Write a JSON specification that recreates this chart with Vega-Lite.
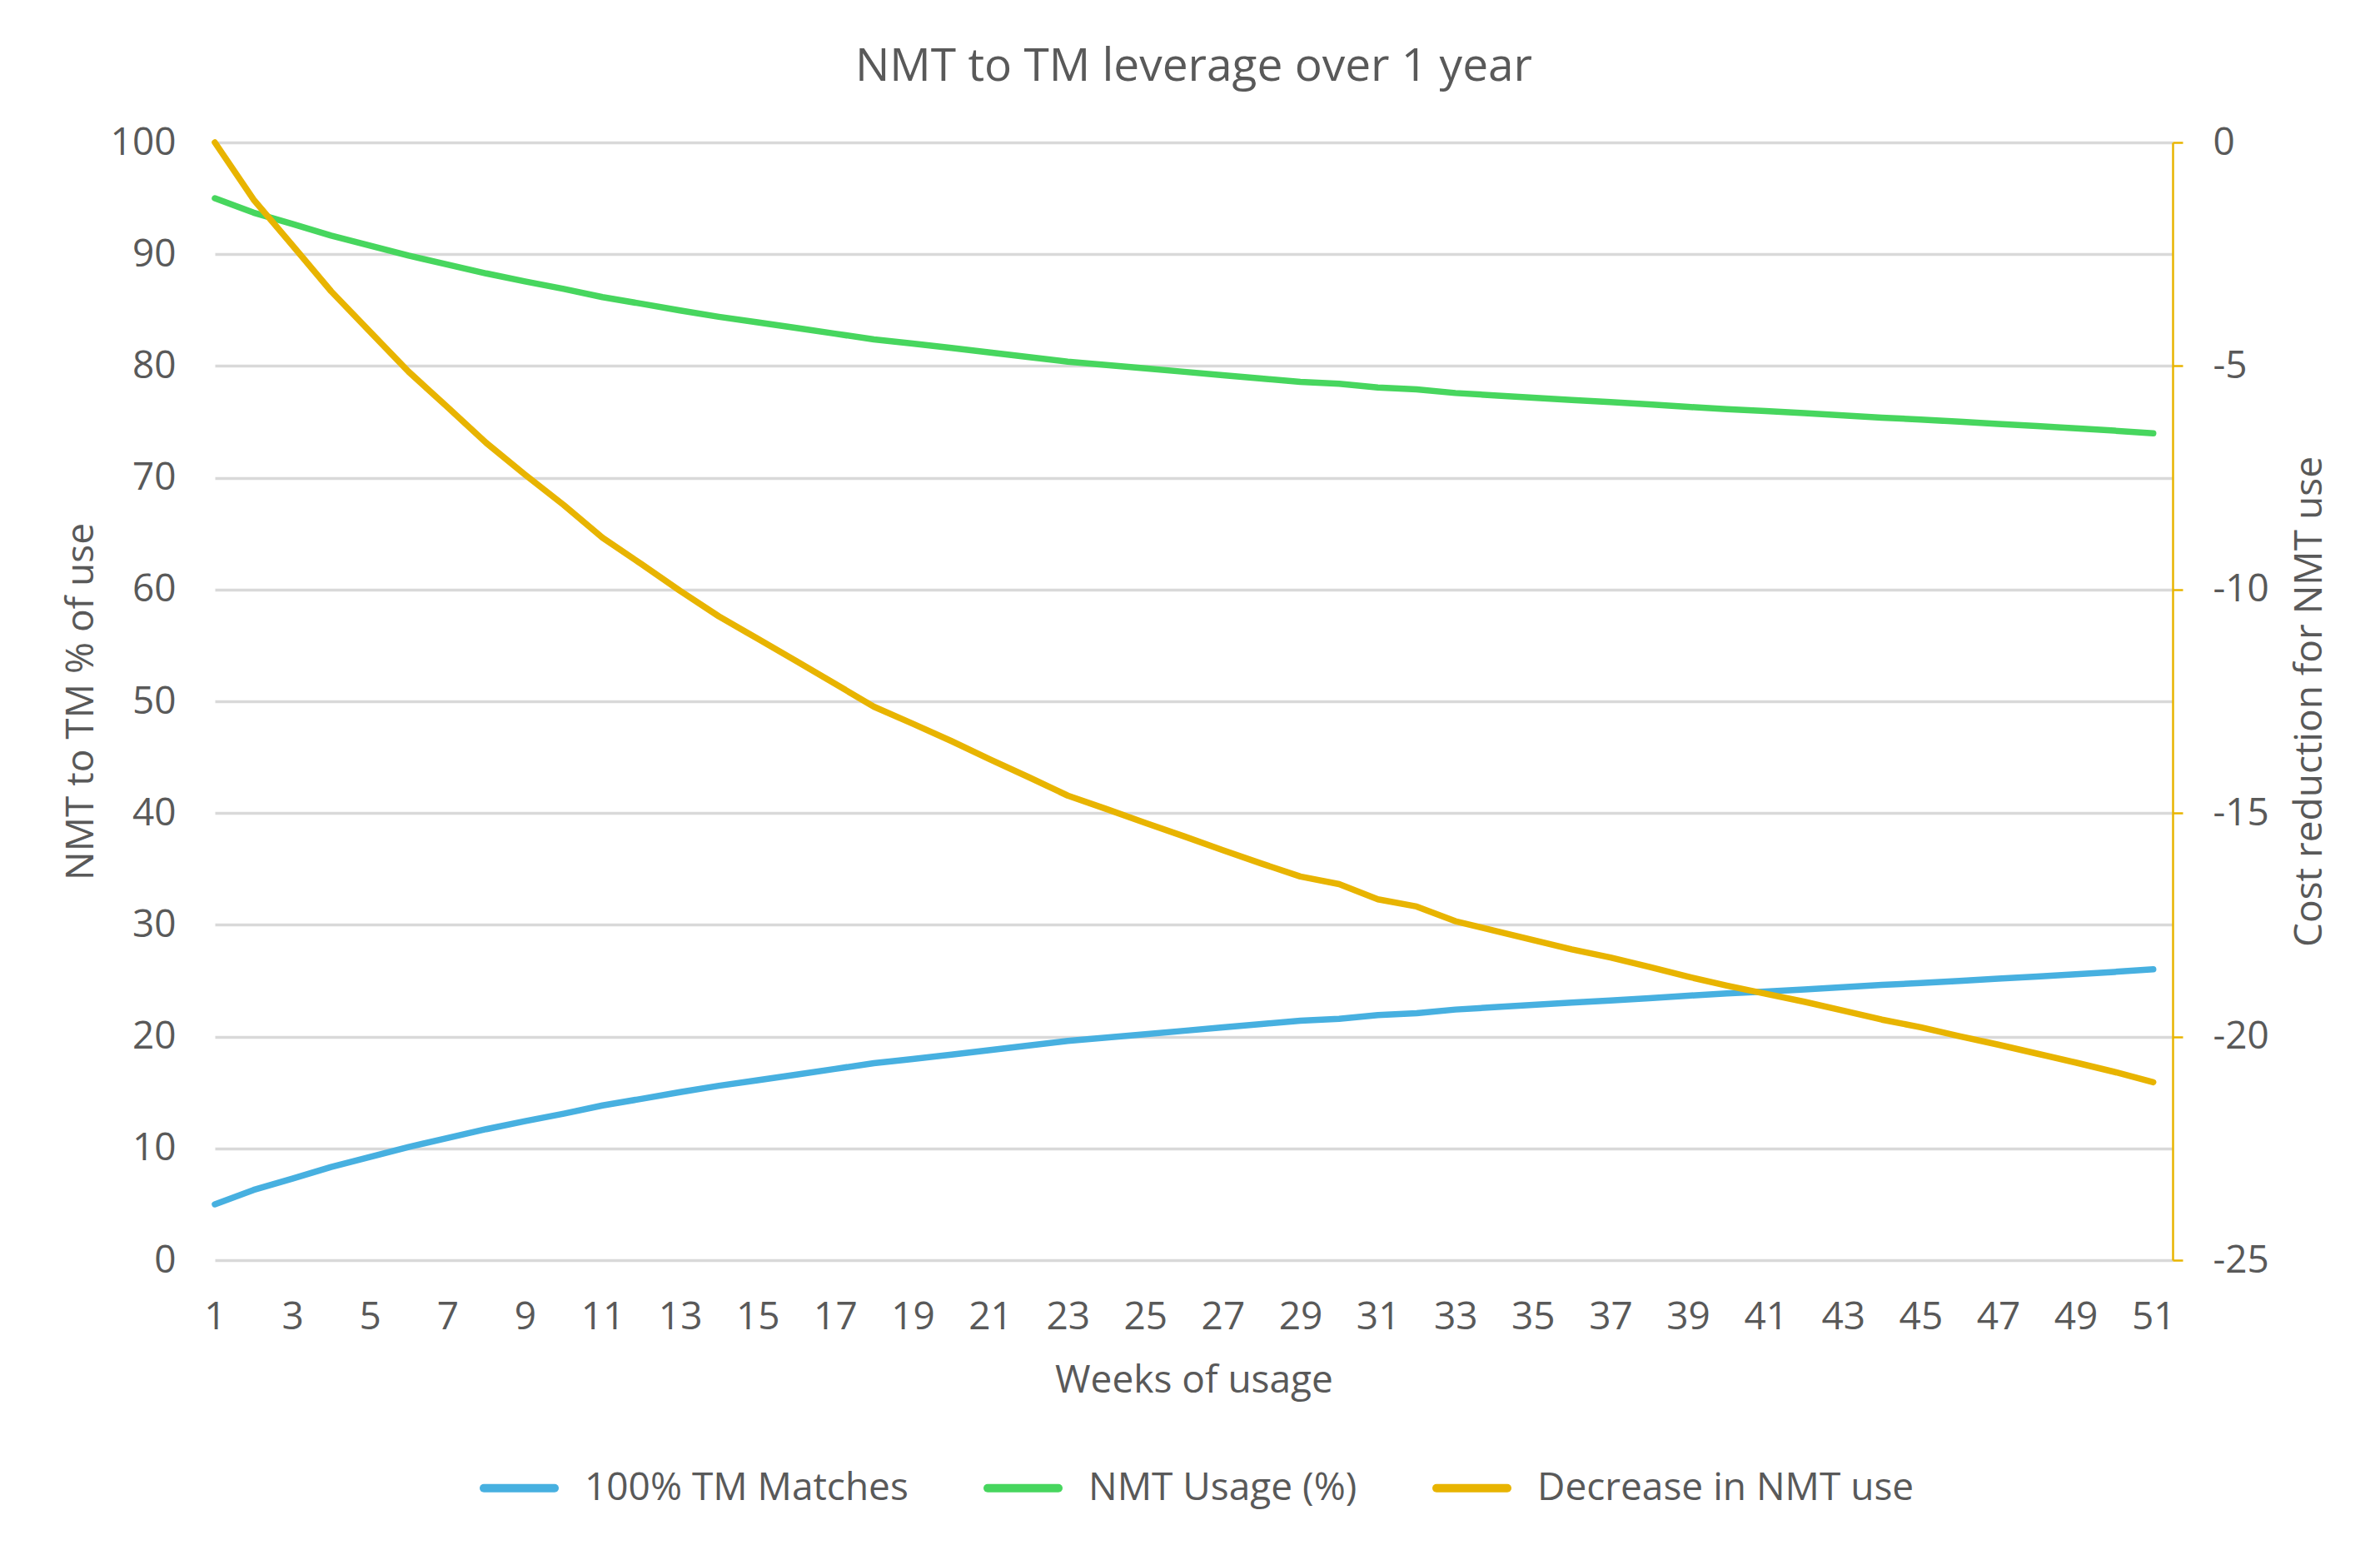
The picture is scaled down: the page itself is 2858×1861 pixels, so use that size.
{
  "$schema": "https://vega.github.io/schema/vega-lite/v6.json",
  "autosize": {"type": "none"},
  "width": 2351,
  "height": 1342,
  "padding": {"left": 258, "top": 171, "right": 249, "bottom": 348},
  "background": "white",
  "title": {"text": "NMT to TM leverage over 1 year", "fontSize": 55, "font": "Open Sans", "fontWeight": "normal", "color": "#595959", "offset": 39, "anchor": "middle"},
  "data": {"values": [
    {"week": 1, "tm": 5, "nmt": 95, "dec": 0},
    {"week": 2, "tm": 6.28, "nmt": 93.72, "dec": -1.28},
    {"week": 3, "tm": 7.3, "nmt": 92.7, "dec": -2.3},
    {"week": 4, "tm": 8.33, "nmt": 91.67, "dec": -3.33},
    {"week": 5, "tm": 9.23, "nmt": 90.77, "dec": -4.23},
    {"week": 6, "tm": 10.13, "nmt": 89.87, "dec": -5.13},
    {"week": 7, "tm": 10.92, "nmt": 89.08, "dec": -5.92},
    {"week": 8, "tm": 11.72, "nmt": 88.28, "dec": -6.72},
    {"week": 9, "tm": 12.43, "nmt": 87.57, "dec": -7.43},
    {"week": 10, "tm": 13.11, "nmt": 86.89, "dec": -8.11},
    {"week": 11, "tm": 13.84, "nmt": 86.16, "dec": -8.84},
    {"week": 12, "tm": 14.43, "nmt": 85.57, "dec": -9.43},
    {"week": 13, "tm": 15.03, "nmt": 84.97, "dec": -10.03},
    {"week": 14, "tm": 15.6, "nmt": 84.4, "dec": -10.6},
    {"week": 15, "tm": 16.1, "nmt": 83.9, "dec": -11.1},
    {"week": 16, "tm": 16.6, "nmt": 83.4, "dec": -11.6},
    {"week": 17, "tm": 17.11, "nmt": 82.89, "dec": -12.11},
    {"week": 18, "tm": 17.62, "nmt": 82.38, "dec": -12.62},
    {"week": 19, "tm": 18.0, "nmt": 82.0, "dec": -13.0},
    {"week": 20, "tm": 18.39, "nmt": 81.61, "dec": -13.39},
    {"week": 21, "tm": 18.8, "nmt": 81.2, "dec": -13.8},
    {"week": 22, "tm": 19.2, "nmt": 80.8, "dec": -14.2},
    {"week": 23, "tm": 19.61, "nmt": 80.39, "dec": -14.61},
    {"week": 24, "tm": 19.91, "nmt": 80.09, "dec": -14.91},
    {"week": 25, "tm": 20.22, "nmt": 79.78, "dec": -15.22},
    {"week": 26, "tm": 20.52, "nmt": 79.48, "dec": -15.52},
    {"week": 27, "tm": 20.83, "nmt": 79.17, "dec": -15.83},
    {"week": 28, "tm": 21.13, "nmt": 78.87, "dec": -16.13},
    {"week": 29, "tm": 21.42, "nmt": 78.58, "dec": -16.42},
    {"week": 30, "tm": 21.59, "nmt": 78.41, "dec": -16.59},
    {"week": 31, "tm": 21.93, "nmt": 78.07, "dec": -16.93},
    {"week": 32, "tm": 22.09, "nmt": 77.91, "dec": -17.09},
    {"week": 33, "tm": 22.42, "nmt": 77.58, "dec": -17.42},
    {"week": 34, "tm": 22.63, "nmt": 77.37, "dec": -17.63},
    {"week": 35, "tm": 22.84, "nmt": 77.16, "dec": -17.84},
    {"week": 36, "tm": 23.05, "nmt": 76.95, "dec": -18.05},
    {"week": 37, "tm": 23.23, "nmt": 76.77, "dec": -18.23},
    {"week": 38, "tm": 23.44, "nmt": 76.56, "dec": -18.44},
    {"week": 39, "tm": 23.66, "nmt": 76.34, "dec": -18.66},
    {"week": 40, "tm": 23.86, "nmt": 76.14, "dec": -18.86},
    {"week": 41, "tm": 24.04, "nmt": 75.96, "dec": -19.04},
    {"week": 42, "tm": 24.22, "nmt": 75.78, "dec": -19.22},
    {"week": 43, "tm": 24.42, "nmt": 75.58, "dec": -19.42},
    {"week": 44, "tm": 24.62, "nmt": 75.38, "dec": -19.62},
    {"week": 45, "tm": 24.79, "nmt": 75.21, "dec": -19.79},
    {"week": 46, "tm": 24.99, "nmt": 75.01, "dec": -19.99},
    {"week": 47, "tm": 25.18, "nmt": 74.82, "dec": -20.18},
    {"week": 48, "tm": 25.38, "nmt": 74.62, "dec": -20.38},
    {"week": 49, "tm": 25.58, "nmt": 74.42, "dec": -20.58},
    {"week": 50, "tm": 25.79, "nmt": 74.21, "dec": -20.79},
    {"week": 51, "tm": 26.02, "nmt": 73.98, "dec": -21.02}
  ]},
  "encoding": {
    "x": {
      "field": "week",
      "type": "quantitative",
      "scale": {"domain": [1, 51.5], "nice": false, "zero": false},
      "axis": {
        "values": [1, 3, 5, 7, 9, 11, 13, 15, 17, 19, 21, 23, 25, 27, 29, 31, 33, 35, 37, 39, 41, 43, 45, 47, 49, 51],
        "title": "Weeks of usage",
        "grid": false,
        "domain": false,
        "ticks": false,
        "tickSize": 0,
        "labelPadding": 46,
        "labelFlush": false,
        "labelOverlap": false,
        "labelBound": false,
        "labelFontSize": 46,
        "labelColor": "#595959",
        "titleFontSize": 46,
        "titleColor": "#595959",
        "titleFontWeight": "normal",
        "titleY": 158,
        "titleBaseline": "alphabetic"
      }
    }
  },
  "layer": [
    {
      "transform": [{"fold": ["tm", "nmt"], "as": ["series", "value"]}],
      "mark": {"type": "line", "strokeWidth": 7.5, "strokeCap": "round", "strokeJoin": "round"},
      "encoding": {
        "y": {
          "field": "value",
          "type": "quantitative",
          "scale": {"domain": [0, 100], "nice": false},
          "axis": {
            "orient": "left",
            "values": [0, 10, 20, 30, 40, 50, 60, 70, 80, 90, 100],
            "grid": true,
            "gridColor": "#D9D9D9",
            "gridWidth": 3.5,
            "domain": false,
            "ticks": false,
            "tickSize": 0,
            "labelPadding": 47,
            "labelFontSize": 46,
            "labelColor": "#595959",
            "title": "NMT to TM % of use",
            "titleFontSize": 46,
            "titleColor": "#595959",
            "titleFontWeight": "normal",
            "titleAngle": -90,
            "titleX": -147,
            "titleY": 671,
            "titleAlign": "center",
            "titleBaseline": "alphabetic"
          }
        },
        "color": {
          "field": "series",
          "type": "nominal",
          "scale": {"domain": ["tm", "nmt", "dec"], "range": ["#47B0E0", "#47D65E", "#E8B400"]},
          "legend": {
            "orient": "none",
            "legendX": 318,
            "legendY": 1568,
            "direction": "horizontal",
            "title": null,
            "padding": 0,
            "symbolType": "stroke",
            "symbolSize": 7225,
            "symbolStrokeWidth": 10,
            "labelOffset": 31,
            "columnPadding": 75,
            "labelFontSize": 46,
            "labelColor": "#595959",
            "labelLimit": 1000,
            "labelExpr": "datum.label == 'tm' ? '100% TM Matches' : datum.label == 'nmt' ? 'NMT Usage (%)' : 'Decrease in NMT use'",
            "encode": {"symbols": {"update": {"strokeCap": {"value": "round"}}}}
          }
        }
      }
    },
    {
      "transform": [{"fold": ["dec"], "as": ["series", "value"]}],
      "mark": {"type": "line", "strokeWidth": 7.5, "strokeCap": "round", "strokeJoin": "round"},
      "encoding": {
        "y": {
          "field": "value",
          "type": "quantitative",
          "scale": {"domain": [-25, 0], "nice": false},
          "axis": {
            "orient": "right",
            "values": [-25, -20, -15, -10, -5, 0],
            "grid": false,
            "domain": true,
            "domainColor": "#E8B400",
            "domainWidth": 2.5,
            "ticks": true,
            "tickColor": "#E8B400",
            "tickWidth": 2.5,
            "tickSize": 12,
            "labelPadding": 36,
            "labelExpr": "'' + datum.value",
            "labelFontSize": 46,
            "labelColor": "#595959",
            "title": "Cost reduction for NMT use",
            "titleFontSize": 46,
            "titleColor": "#595959",
            "titleFontWeight": "normal",
            "titleAngle": -90,
            "titleX": 178,
            "titleY": 671,
            "titleAlign": "center",
            "titleBaseline": "alphabetic"
          }
        },
        "color": {"field": "series", "type": "nominal"}
      }
    }
  ],
  "resolve": {"scale": {"y": "independent"}},
  "config": {
    "font": "Open Sans",
    "view": {"stroke": null}
  }
}
